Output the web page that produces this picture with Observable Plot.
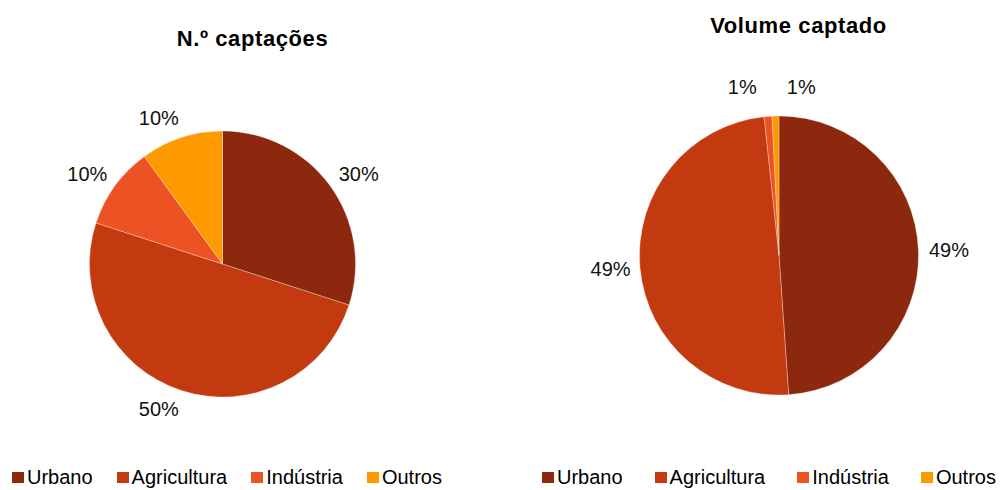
<!DOCTYPE html>
<html>
<head>
<meta charset="utf-8">
<script src="https://cdn.jsdelivr.net/npm/d3@7"></script>
<script src="https://cdn.jsdelivr.net/npm/@observablehq/plot@0.6"></script>
<style>
  html, body { margin: 0; padding: 0; background: #fff; overflow: hidden; }
  #root { position: relative; width: 1007px; height: 490px; font-family: "Liberation Sans", Arial, sans-serif; }
  .title { position: absolute; font-weight: bold; font-size: 22px; line-height: 22px; letter-spacing: 0.6px; white-space: nowrap; color: #000; transform: translateX(-50%); }
  .legend { position: absolute; top: 467px; display: flex; font-size: 20px; line-height: 20px; white-space: nowrap; color: #000; }
  .legend .item { display: flex; align-items: flex-start; }
  .legend .sw { width: 12px; height: 11px; margin-top: 5px; margin-right: 3px; }
  .chart { position: absolute; top: 0; }
  .chart svg { overflow: visible; }
</style>
</head>
<body>
<div id="root"></div>
<script>
// ---- data ----
const categories = ["Urbano", "Agricultura", "Indústria", "Outros"];
const colors = ["#8B280D", "#C33A10", "#EC5224", "#FD9A00"];
const captacoesValues = [30, 50, 10, 10];          // N.º captações (%)
const volumeValues = [48.9, 49.4, 0.9, 0.8];        // Volume captado (%)
const titles = ["N.º captações", "Volume captado"];

const color = Plot.scale({color: {type: "ordinal", domain: categories, range: colors}});

const root = document.getElementById("root");

function textWidth(s, fs) {
  let w = 0;
  for (const c of s) w += (c === "%" ? 0.889 : 0.556);
  return w * fs;
}

function buildChart(values, opts) {
  const {left, width, height, mt, mb, ml, mr, titleX, titleTop, legendLeft, legendGap} = opts;
  const data = categories.map((c, i) => ({category: c, value: values[i]}));
  const total = d3.sum(values);
  const r = (height - mt - mb) / 2;
  const arcs = d3.pie().sort(null).value(d => d.value)(data);
  const fs = 20, h = 20, gap = 10;
  // outside-end label placement
  const labels = arcs.map(a => {
    const ang = (a.startAngle + a.endAngle) / 2;
    const s = Math.sin(ang), c = Math.cos(ang);
    const text = Math.round(a.data.value / total * 100) + "%";
    const w = textWidth(text, fs);
    const px = s * (r + gap), py = -c * (r + gap);
    const sx = Math.abs(s) < 0.02 ? 0 : Math.sign(s);
    return {text, w, px, py, ang, x: px + sx * w / 2, y: py - c * h / 2};
  });
  // resolve overlaps between neighbouring labels
  for (let i = 0; i < labels.length; i++) {
    const A = labels[i], B = labels[(i + 1) % labels.length];
    if (A === B) continue;
    if (Math.abs(A.x - B.x) < (A.w + B.w) / 2 + 4 && Math.abs(A.y - B.y) < h) {
      const mx = (A.px + B.px) / 2, my = Math.min(A.y, B.y) - 9;
      A.x = mx - 15 - A.w / 2; B.x = mx + 15 + B.w / 2;
      A.y = my; B.y = my;
    }
  }
  const labelData = labels.map(l => ({text: l.text, x: l.x / r, y: -l.y / r}));

  const pie = (index, scales, vals, dims) => {
    let cx, cy, rr;
    if (scales && typeof scales.x === "function") {
      cx = scales.x(0); cy = scales.y(0); rr = scales.x(1) - scales.x(0);
    } else {
      cx = ml + (width - ml - mr) / 2; cy = mt + (height - mt - mb) / 2; rr = r;
    }
    const g = d3.create("svg:g").attr("transform", `translate(${cx},${cy})`);
    g.selectAll("path").data(arcs).join("path")
      .attr("d", d3.arc().innerRadius(0).outerRadius(rr))
      .attr("fill", d => color.apply(d.data.category))
      .attr("stroke", "#fff").attr("stroke-opacity", 0.5).attr("stroke-width", 0.6);
    return g.node();
  };

  const svg = Plot.plot({
    width, height,
    marginTop: mt, marginBottom: mb, marginLeft: ml, marginRight: mr,
    x: {domain: [-1, 1], axis: null},
    y: {domain: [-1, 1], axis: null},
    style: {fontFamily: "Liberation Sans, Arial, sans-serif", overflow: "visible", background: "transparent"},
    marks: [
      pie,
      Plot.text(labelData, {x: "x", y: "y", text: "text", fontSize: fs, fill: "#111", textAnchor: "middle", lineAnchor: "middle"})
    ]
  });
  const wrap = document.createElement("div");
  wrap.className = "chart";
  wrap.style.left = left + "px";
  wrap.appendChild(svg);
  root.appendChild(wrap);

  const t = document.createElement("div");
  t.className = "title";
  t.style.left = titleX + "px";
  t.style.top = titleTop + "px";
  t.textContent = opts.title;
  root.appendChild(t);

  const lg = document.createElement("div");
  lg.className = "legend";
  lg.style.left = legendLeft + "px";
  categories.forEach((c, i) => {
    const it = document.createElement("div");
    it.className = "item";
    if (i < categories.length - 1) it.style.marginRight = legendGap + "px";
    const sw = document.createElement("span");
    sw.className = "sw";
    sw.style.background = color.apply(c);
    const tx = document.createElement("span");
    tx.textContent = c;
    it.appendChild(sw); it.appendChild(tx);
    lg.appendChild(it);
  });
  root.appendChild(lg);
}

buildChart(captacoesValues, {
  title: titles[0], left: 0, width: 500, height: 460,
  mt: 131, mb: 63, ml: 89.5, mr: 144.5,
  titleX: 252.5, titleTop: 28, legendLeft: 12, legendGap: 24
});
buildChart(volumeValues, {
  title: titles[1], left: 503, width: 504, height: 460,
  mt: 116, mb: 65, ml: 136.5, mr: 88.5,
  titleX: 798.5, titleTop: 15, legendLeft: 542, legendGap: 32
});
</script>
</body>
</html>
